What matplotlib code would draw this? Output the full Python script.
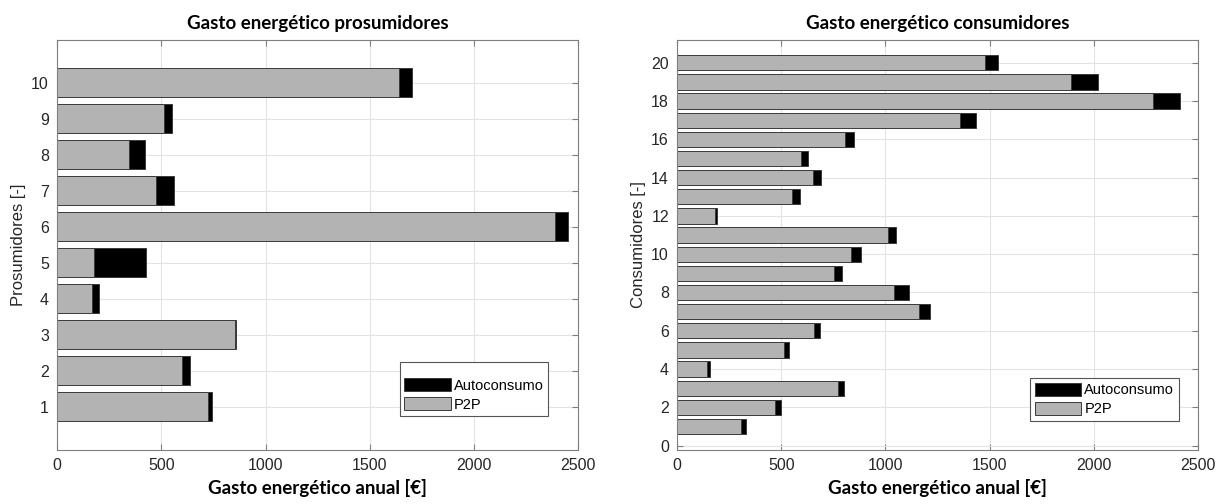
import numpy as np
import matplotlib
matplotlib.use("Agg")
import matplotlib.pyplot as plt

# Prosumidores (1..10)
pros_ids = np.arange(1, 11)
pros_p2p = [722, 601, 852, 167, 175, 2388, 472, 344, 513, 1641]
pros_auto = [22, 35, 7, 32, 253, 64, 88, 75, 39, 61]

# Consumidores (1..20)
cons_ids = np.arange(1, 21)
cons_p2p = [307, 469, 771, 145, 514, 656, 1161, 1043, 753, 835,
            1010, 183, 553, 652, 594, 807, 1360, 2286, 1893, 1479]
cons_auto = [23, 27, 28, 10, 21, 30, 52, 71, 39, 46,
             42, 7, 34, 37, 36, 42, 74, 130, 126, 63]

xticks = [0, 500, 1000, 1500, 2000, 2500]
pros_yticks = list(range(1, 11))
cons_yticks = list(range(0, 21, 2))

plt.rcParams['font.family'] = ['Liberation Sans', 'DejaVu Sans']
title_font = dict(family='Lato', weight='bold', size=13.5)

gray = '#b3b3b3'
edge = '#3a3a3a'
axcol = '#7f7f7f'


def draw(ax, ids, p2p, auto, yticks, ylim, title, ylabel, leg_anchor, leg_top):
  h_auto = ax.barh(ids, auto, left=p2p, height=0.8, color='black',
                   edgecolor=edge, linewidth=0.7, label='Autoconsumo')
  h_p2p = ax.barh(ids, p2p, height=0.8, color=gray,
                  edgecolor=edge, linewidth=0.7, label='P2P')
  ax.set_xlim(0, 2500)
  ax.set_ylim(*ylim)
  ax.set_xticks(xticks)
  ax.set_yticks(yticks)
  ax.set_axisbelow(True)
  ax.grid(True, color='#e3e3e3', linewidth=0.8)
  ax.tick_params(direction='in', length=4, color=axcol, labelsize=11.5,
                 labelcolor='#262626', top=True, right=True, pad=6)
  for s in ax.spines.values():
    s.set_color(axcol)
    s.set_linewidth(0.8)
  ax.set_title(title, fontdict=title_font, pad=8)
  ax.set_xlabel("Gasto energético anual [€]", fontdict=title_font, labelpad=4)
  ax.set_ylabel(ylabel, fontsize=12, color='#262626', labelpad=4)
  # the left legend has a bit of extra room above its entries
  leg = ax.legend(handles=[h_auto, h_p2p], loc='lower right',
                  bbox_to_anchor=leg_anchor, borderaxespad=0,
                  fontsize=10.5, handlelength=3.2, handleheight=1.0,
                  handletextpad=0.2, labelspacing=0.3, borderpad=0.3,
                  fancybox=False, framealpha=1, edgecolor='#555555',
                  title=leg_top, title_fontsize=5)
  leg.get_frame().set_linewidth(0.8)


fig = plt.figure(figsize=(12.16, 5.04), dpi=100)
ax1 = fig.add_axes([0.0471, 0.1071, 0.4282, 0.8135])
ax2 = fig.add_axes([0.5570, 0.1071, 0.4280, 0.8135])

draw(ax1, pros_ids, pros_p2p, pros_auto, pros_yticks, (-0.21, 11.19),
     "Gasto energético prosumidores", "Prosumidores [-]", (0.943, 0.083), ' ')
draw(ax2, cons_ids, cons_p2p, cons_auto, cons_yticks, (-0.23, 21.19),
     "Gasto energético consumidores", "Consumidores [-]", (0.963, 0.072), None)

fig.savefig("out.png", dpi=100)
